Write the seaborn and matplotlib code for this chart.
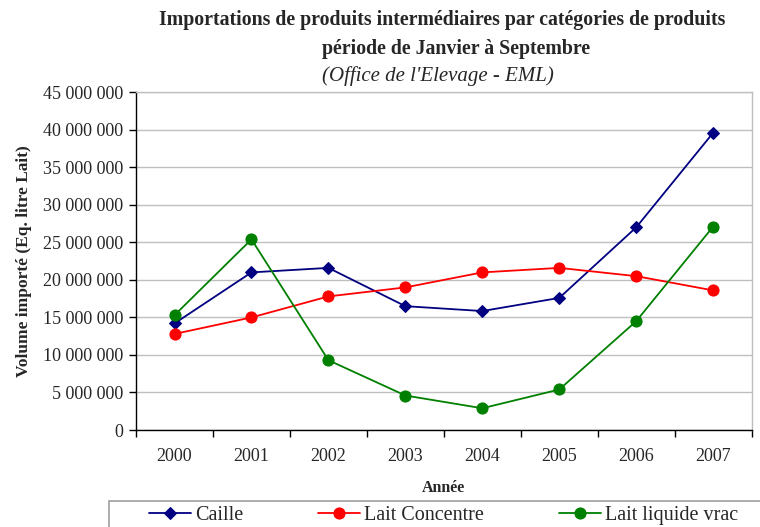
import matplotlib
matplotlib.use("Agg")
import matplotlib.pyplot as plt
import seaborn as sns
import pandas as pd
from matplotlib.ticker import FuncFormatter, FixedLocator
from matplotlib.patches import Rectangle

years = [2000, 2001, 2002, 2003, 2004, 2005, 2006, 2007]
caille = [14.2e6, 21.0e6, 21.6e6, 16.5e6, 15.85e6, 17.6e6, 27.0e6, 39.6e6]
lait_concentre = [12.8e6, 15.0e6, 17.8e6, 19.0e6, 21.0e6, 21.6e6, 20.5e6, 18.6e6]
lait_liquide = [15.3e6, 25.4e6, 9.3e6, 4.6e6, 2.9e6, 5.4e6, 14.5e6, 27.1e6]
series_names = ["Caille", "Lait Concentre", "Lait liquide vrac"]

df = pd.DataFrame({
    "Année": years * 3,
    "Volume": caille + lait_concentre + lait_liquide,
    "Série": [series_names[0]] * 8 + [series_names[1]] * 8 + [series_names[2]] * 8,
})

sns.set_theme(style="white")
plt.rcParams["font.family"] = ["Liberation Serif", "DejaVu Serif"]

fig = plt.figure(figsize=(7.6, 5.27), dpi=100)
ax = fig.add_axes([0.179, 0.184, 0.810, 0.641])

palette = {"Caille": "#000080", "Lait Concentre": "#FF0000", "Lait liquide vrac": "#008000"}
markers = {"Caille": "D", "Lait Concentre": "o", "Lait liquide vrac": "o"}
sizes = {"Caille": 6.5, "Lait Concentre": 8, "Lait liquide vrac": 8}
for name in series_names:
    sub = df[df["Série"] == name]
    sns.lineplot(data=sub, x="Année", y="Volume", ax=ax, color=palette[name],
                 marker=markers[name], markersize=sizes[name], markeredgecolor=palette[name],
                 linewidth=1.3, label=name, legend=False)

ax.set_xlim(years[0] - 0.5, years[-1] + 0.5)
ax.set_ylim(0, 45e6)
ax.set_yticks([i * 5e6 for i in range(10)])
ax.yaxis.set_major_formatter(FuncFormatter(lambda v, p: f"{int(v):,}".replace(",", " ")))
ax.xaxis.set_major_locator(FixedLocator([y - 0.5 for y in years] + [years[-1] + 0.5]))
ax.xaxis.set_minor_locator(FixedLocator(years))
ax.set_xticklabels([])
ax.set_xticklabels([str(y) for y in years], minor=True)
ax.tick_params(axis="x", which="major", length=5, width=1, color="black", direction="out", bottom=True)
ax.tick_params(axis="x", which="minor", length=0, labelsize=13, pad=13)
ax.tick_params(axis="y", length=5, width=1, color="black", direction="out", left=True, labelsize=13, pad=4)

ax.grid(axis="y", color="#bfbfbf", linewidth=1)
ax.set_axisbelow(True)
for s in ["left", "bottom"]:
    ax.spines[s].set_color("black")
    ax.spines[s].set_linewidth(1)
for s in ["top", "right"]:
    ax.spines[s].set_color("#bfbfbf")
    ax.spines[s].set_linewidth(1)

ax.set_xlabel("Année", fontsize=11.5, fontweight="bold", labelpad=11)
ax.set_ylabel("Volume importé (Eq. litre Lait)", fontsize=12.5, fontweight="bold", labelpad=8)

fig.text(442 / 760, 0.962, "Importations de produits intermédiaires par catégories de produits",
         ha="center", va="center", fontsize=14.3, fontweight="bold")
fig.text(456 / 760, 0.907, "période de Janvier à Septembre",
         ha="center", va="center", fontsize=14.3, fontweight="bold")
fig.text(438 / 760, 0.856, "(Office de l'Elevage - EML)",
         ha="center", va="center", fontsize=15, style="italic")

handles, labels = ax.get_legend_handles_labels()
leg = fig.legend(handles, labels, loc="center left", bbox_to_anchor=(149 / 760, 0.021), ncol=3,
                 frameon=False, fontsize=14.5, handlelength=2.1, handletextpad=0.2,
                 columnspacing=3.7, borderaxespad=0, borderpad=0)
fig.patches.append(Rectangle((109 / 760, -0.05), 0.95, 0.05 + (527 - 501) / 527,
                             transform=fig.transFigure, fill=False,
                             edgecolor="#a0a0a0", linewidth=1.2))

fig.savefig("out.png", dpi=100)
